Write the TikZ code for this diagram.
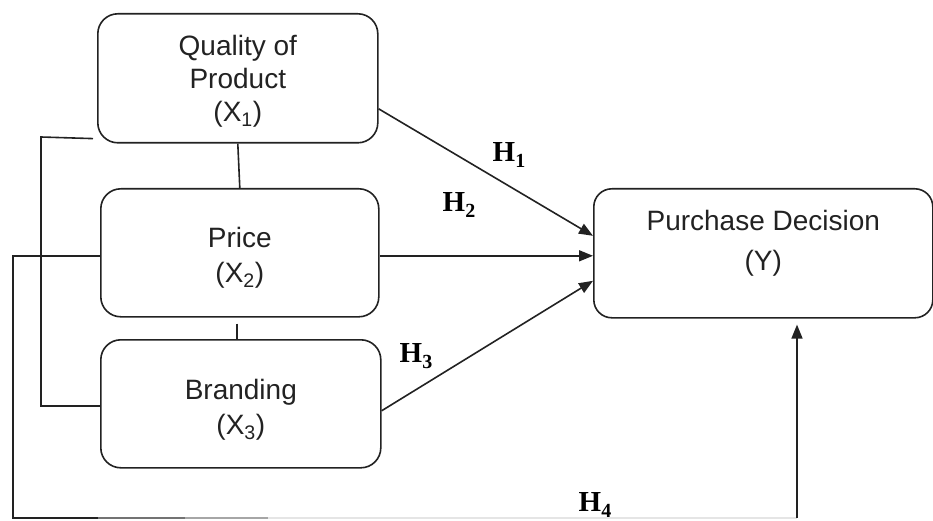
\documentclass[tikz,border=0pt]{standalone}
\usepackage{fontspec}
\setmainfont{Liberation Sans}
\newfontfamily\hfont{Liberation Serif}
\usetikzlibrary{arrows.meta,calc}
\definecolor{ink}{HTML}{222222}
\newcommand\hsub[1]{\raisebox{-0.22em}{\fontsize{20}{20}\selectfont #1}}
\begin{document}
\begin{tikzpicture}[x=1pt,y=-1pt,
 box/.style={draw=ink,line width=1.6pt,rounded corners=20pt,inner sep=0pt,anchor=north west},
 txt/.style={align=center,text=ink,inner sep=0pt},
 hlab/.style={text=black,inner sep=0pt,font=\fontsize{29}{29}\hfont\bfseries},
 link/.style={draw=ink,line width=1.6pt},
 arr/.style={link,-{Triangle[length=14pt,width=11pt]}}]
\useasboundingbox (0,0) rectangle (933,521);
% boxes
\node[box,minimum width=280pt,minimum height=129pt] (q) at (97,13) {};
\node[box,minimum width=278pt,minimum height=128pt] (p) at (100,188) {};
\node[box,minimum width=280pt,minimum height=128pt] (b) at (100,339) {};
\node[box,minimum width=339pt,minimum height=129pt,rounded corners=18pt] (y) at (593,188) {};
% texts
\node[txt,font=\fontsize{28}{33}\selectfont] (qt) at ([yshift=-3pt]q.center) {Quality of\\Product\\(X\textsubscript{1})};
\node[txt,font=\fontsize{28}{35}\selectfont] (pt) at ([yshift=-5pt]p.center) {Price\\(X\textsubscript{2})};
\node[txt,font=\fontsize{28}{35}\selectfont] (bt) at ([yshift=-6pt]b.center) {Branding\\(X\textsubscript{3})};
\node[txt,font=\fontsize{28}{40}\selectfont] (yt) at ([yshift=10pt]y.center) {Purchase Decision\\(Y)};
% vertical links between boxes
\draw[link] (q.south) -- (p.north);
\draw[link] ([xshift=-3pt,yshift=-6pt]p.south) -- ([xshift=-3pt]p.south |- b.north);
% bracket X1 - X3
\coordinate (l1) at (41,137);
\coordinate (l2) at (41,406);
\draw[link] ([xshift=-4pt,yshift=5pt]q.south west) -- (l1) -- (l2) -- (b.west |- l2);
% bracket X2 - Y (H4)
\coordinate (m1) at (13,256);
\coordinate (m2) at (13,518);
\coordinate (m3) at (98,518);
\coordinate (m4) at (185,518);
\coordinate (m5) at (268,518);
\coordinate (m6) at (797,518);
\draw[link] (p.west |- m1) -- (m1) -- (m2) -- (m3);
\draw[draw=black!55,line width=1.6pt] (m3) -- (m4);
\draw[draw=black!35,line width=1.6pt] (m4) -- (m5);
\draw[draw=black!10,line width=1.6pt] (m5) -- (m6);
\draw[arr,shorten >=6pt] (m6) -- (m6 |- y.south);
% arrows to Y
\draw[arr] ([yshift=-30.5pt]q.east) -- ([yshift=17.5pt]y.west);
\draw[arr] ([yshift=-3pt]p.east) -- ([yshift=-2.5pt]y.west);
\draw[arr] ([yshift=-7pt]b.east) -- ([yshift=-27.5pt]y.west);
% labels
\node[hlab] (h1) at (509,155) {H\hsub{1}};
\node[hlab] (h2) at (459,205) {H\hsub{2}};
\node[hlab] (h3) at (416,356) {H\hsub{3}};
\node[hlab] (h4) at (595,505) {H\hsub{4}};
\end{tikzpicture}
\end{document}
